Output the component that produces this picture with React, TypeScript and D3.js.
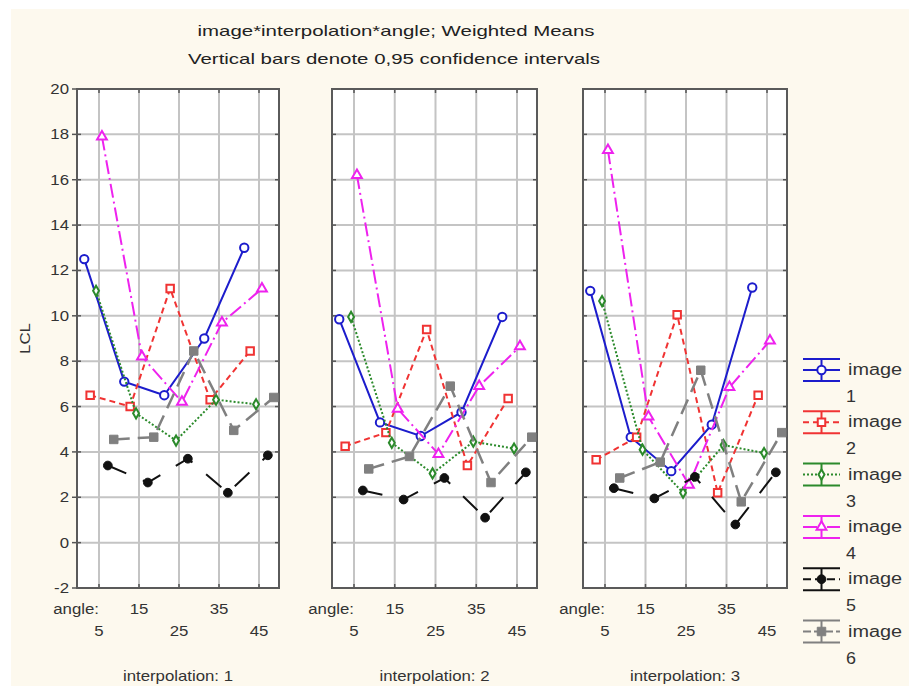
import React from 'react'
import * as d3 from 'd3'

const W = 909
const H = 686

const ANGLES = [5, 15, 25, 35, 45]
const INTERPOLATIONS = ['1', '2', '3']
const IMAGES = ['1', '2', '3', '4', '5', '6']
const Y_TICKS = [-2, 0, 2, 4, 6, 8, 10, 12, 14, 16, 18, 20]

// LCL weighted means, one row per interpolation (1, 2, 3), columns = angle 5..45
const IMAGE_1 = [[12.5, 7.1, 6.5, 9.0, 13.0], [9.85, 5.3, 4.7, 5.75, 9.95], [11.1, 4.65, 3.15, 5.2, 11.25]]
const IMAGE_2 = [[6.5, 6.0, 11.2, 6.3, 8.45], [4.25, 4.85, 9.4, 3.4, 6.35], [3.65, 4.65, 10.05, 2.2, 6.5]]
const IMAGE_3 = [[11.1, 5.7, 4.5, 6.3, 6.1], [9.95, 4.4, 3.05, 4.45, 4.15], [10.65, 4.1, 2.2, 4.3, 3.95]]
const IMAGE_4 = [[17.9, 8.2, 6.2, 9.7, 11.2], [16.2, 5.9, 3.9, 6.9, 8.65], [17.3, 5.55, 2.55, 6.85, 8.9]]
const IMAGE_5 = [[3.4, 2.65, 3.7, 2.2, 3.85], [2.3, 1.9, 2.85, 1.1, 3.1], [2.4, 1.95, 2.9, 0.8, 3.1]]
const IMAGE_6 = [[4.55, 4.65, 8.45, 4.95, 6.4], [3.25, 3.8, 6.9, 2.65, 4.65], [2.85, 3.55, 7.6, 1.8, 4.85]]
const VALUES = [IMAGE_1, IMAGE_2, IMAGE_3, IMAGE_4, IMAGE_5, IMAGE_6]

const STYLES = [
  { color: '#1c1ccc', dash: null, width: 2, symbol: d3.symbolCircle, size: 55, filled: false },
  { color: '#f03333', dash: '6,4', width: 2, symbol: d3.symbolSquare, size: 56, filled: false },
  { color: '#2b8a2b', dash: '2,2', width: 2, symbol: d3.symbolDiamond, size: 30, filled: false },
  { color: '#ee22ee', dash: '14,4,2,4', width: 2, symbol: d3.symbolTriangle, size: 42, filled: false },
  { color: '#111111', dash: '20,18', width: 2, symbol: d3.symbolCircle, size: 60, filled: true },
  { color: '#808080', dash: '16,8', width: 2.5, symbol: d3.symbolSquare, size: 72, filled: true },
]

const PANELS = [
  { left: 77, right: 279 },
  { left: 332, right: 537 },
  { left: 583, right: 787 },
]
const TOP = 89
const BOTTOM = 588
const FONT = '"Liberation Sans", Arial, sans-serif'
const TXT = '#333'

const y = d3.scaleLinear().domain([-2, 20]).range([BOTTOM, TOP])
const dodge = d3.scalePoint().domain(IMAGES).range([-14.75, 14.75])

function T({ x, y: ty, anchor = 'start', size = 15, sx = 1.12, children }: any) {
  return (
    <text
      transform={`translate(${x},${ty}) scale(${sx},1)`}
      textAnchor={anchor}
      fontSize={size}
      fontFamily={FONT}
      fill={TXT}
    >
      {children}
    </text>
  )
}

function Marker({ cx, cy, s }: any) {
  const d = d3.symbol().type(s.symbol).size(s.size)()
  return (
    <path
      d={d || ''}
      transform={`translate(${cx},${cy})`}
      fill={s.filled ? s.color : '#fff'}
      stroke={s.color}
      strokeWidth={s.filled ? 1 : 2}
    />
  )
}

function Panel({ p, idx }: any) {
  const x = d3.scaleLinear().domain([5, 45]).range([p.left + 22, p.right - 20])
  const line = d3.line<[number, number]>().x(d => d[0]).y(d => d[1])
  return (
    <g>
      <rect x={p.left} y={TOP} width={p.right - p.left} height={BOTTOM - TOP} fill="#fff" />
      {/* grid */}
      {Y_TICKS.slice(1, -1).map(t => (
        <line key={'h' + t} x1={p.left} x2={p.right} y1={y(t)} y2={y(t)} stroke="#c4c4c4" strokeWidth={2} />
      ))}
      {ANGLES.map(a => (
        <line key={'v' + a} x1={x(a)} x2={x(a)} y1={TOP} y2={BOTTOM} stroke="#c4c4c4" strokeWidth={2} />
      ))}
      {/* border ticks */}
      {ANGLES.map(a => (
        <g key={'t' + a} stroke="#555" strokeWidth={1.5}>
          <line x1={x(a)} x2={x(a)} y1={TOP} y2={TOP + 4} />
          <line x1={x(a)} x2={x(a)} y1={BOTTOM} y2={BOTTOM - 4} />
        </g>
      ))}
      {Y_TICKS.map(t => (
        <g key={'yt' + t} stroke="#555" strokeWidth={1.5}>
          <line x1={idx === 0 ? p.left - 5 : p.left} x2={p.left + 4} y1={y(t)} y2={y(t)} />
          <line x1={p.right - 4} x2={p.right} y1={y(t)} y2={y(t)} />
        </g>
      ))}
      <rect x={p.left} y={TOP} width={p.right - p.left} height={BOTTOM - TOP} fill="none" stroke="#5a5a5a" strokeWidth={2} />
      {/* series */}
      {VALUES.map((rows, si) => {
        const s = STYLES[si]
        const pts: [number, number][] = rows[idx].map((v, i) => [x(ANGLES[i]) + (dodge(IMAGES[si]) || 0), y(v)])
        return (
          <g key={'s' + si}>
            <path
              d={line(pts) || ''}
              fill="none"
              stroke={s.color}
              strokeWidth={s.width}
              strokeDasharray={s.dash || undefined}
            />
            {pts.map((pt, i) => (
              <Marker key={i} cx={pt[0]} cy={pt[1]} s={s} />
            ))}
          </g>
        )
      })}
      {/* x labels */}
      <T x={x(5)} y={614} anchor="end">angle:</T>
      {ANGLES.map((a, i) => (
        <T key={'xl' + a} x={x(a)} y={i % 2 === 0 ? 636 : 614} anchor="middle">{a}</T>
      ))}
      <text
        x={(p.left + p.right) / 2}
        y={681}
        textAnchor="middle"
        fontSize={15}
        fontFamily={FONT}
        fill={TXT}
        textLength={110}
        lengthAdjust="spacingAndGlyphs"
      >
        {'interpolation: ' + INTERPOLATIONS[idx]}
      </text>
    </g>
  )
}

function Legend() {
  const lx0 = 803
  const lx1 = 840
  const cx = (lx0 + lx1) / 2
  return (
    <g>
      {IMAGES.map((im, i) => {
        const s = STYLES[i]
        const cy = 370 + i * 52.3
        return (
          <g key={im}>
            <line x1={lx0} x2={lx1} y1={cy - 11} y2={cy - 11} stroke={s.color} strokeWidth={2} />
            <line x1={lx0} x2={lx1} y1={cy + 11} y2={cy + 11} stroke={s.color} strokeWidth={2} />
            <line x1={cx} x2={cx} y1={cy - 11} y2={cy + 11} stroke={s.color} strokeWidth={2} />
            <line x1={lx0} x2={lx1} y1={cy} y2={cy} stroke={s.color} strokeWidth={2}
              strokeDasharray={s.dash ? (i === 4 ? '8,4' : i === 5 ? '8,3' : s.dash) : undefined} />
            <Marker cx={cx} cy={cy} s={s} />
            <text x={848} y={cy + 5} fontSize={16} fontFamily={FONT} fill={TXT}
              textLength={54} lengthAdjust="spacingAndGlyphs">image</text>
            <T x={846} y={cy + 32} size={16}>{im}</T>
          </g>
        )
      })}
    </g>
  )
}

export default function App() {
  return (
    <svg width={W} height={H} style={{ position: 'absolute', left: 0, top: 0, display: 'block' }}>
      <rect x={0} y={0} width={W} height={H} fill="#fff" />
      <rect x={11} y={9} width={W - 11} height={H - 9} fill="#fdf9ee" />
      <text x={396} y={36} textAnchor="middle" fontSize={15} fontFamily={FONT} fill="#222"
        textLength={397} lengthAdjust="spacingAndGlyphs">image*interpolation*angle; Weighted Means</text>
      <text x={394} y={64} textAnchor="middle" fontSize={15} fontFamily={FONT} fill="#222"
        textLength={412} lengthAdjust="spacingAndGlyphs">Vertical bars denote 0,95 confidence intervals</text>
      {Y_TICKS.map(t => (
        <T key={'yl' + t} x={69} y={y(t) + 5} anchor="end">{t}</T>
      ))}
      <g transform={`translate(30,${(TOP + BOTTOM) / 2}) rotate(-90)`}>
        <T x={0} y={0} anchor="middle">LCL</T>
      </g>
      {PANELS.map((p, i) => (
        <Panel key={i} p={p} idx={i} />
      ))}
      <Legend />
    </svg>
  )
}
